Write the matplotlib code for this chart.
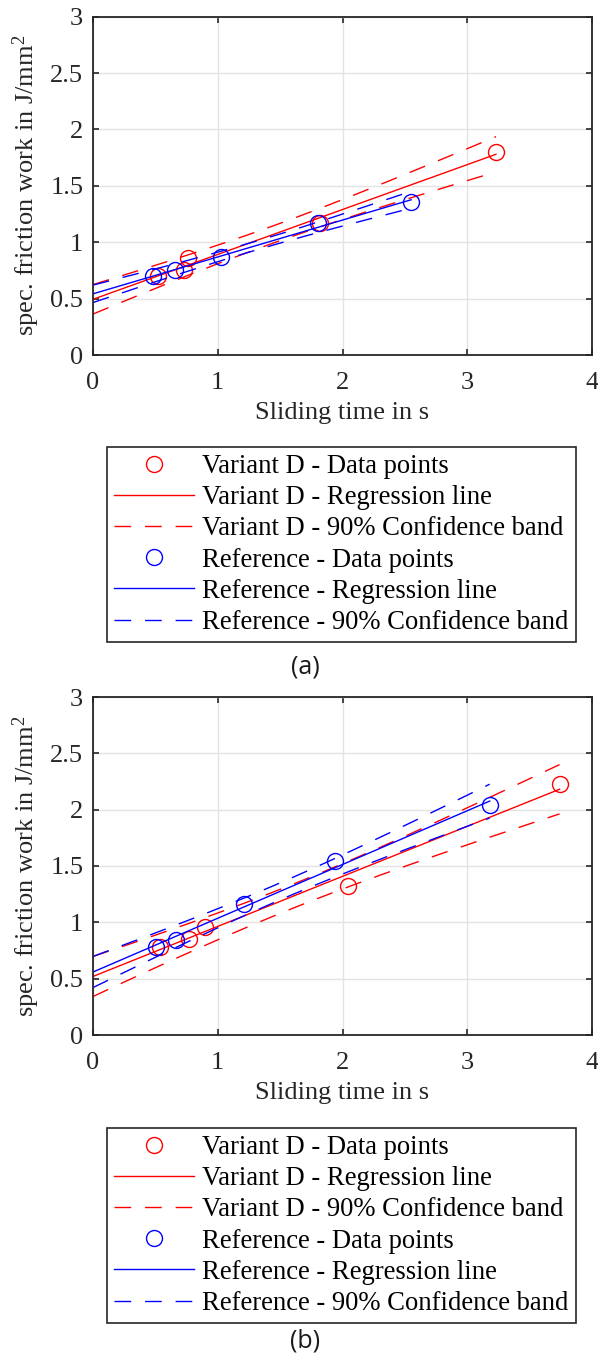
import numpy as np
import matplotlib
matplotlib.use('Agg')
import matplotlib.pyplot as plt
from matplotlib.lines import Line2D

# ---------------- data ----------------
# panel (a)
a_variant_x = [0.52, 0.73, 0.76, 1.82, 3.23]
a_variant_y = [0.70, 0.75, 0.86, 1.17, 1.80]
a_ref_x = [0.48, 0.66, 1.03, 1.80, 2.55]
a_ref_y = [0.70, 0.75, 0.87, 1.17, 1.355]
# panel (b)
b_variant_x = [0.534, 0.767, 0.895, 2.044, 3.74]
b_variant_y = [0.779, 0.853, 0.962, 1.323, 2.226]
b_ref_x = [0.507, 0.668, 1.213, 1.937, 3.18]
b_ref_y = [0.784, 0.844, 1.163, 1.548, 2.037]

x_ticks = [0, 1, 2, 3, 4]
y_ticks = [0, 0.5, 1, 1.5, 2, 2.5, 3]
y_ticklabels = ['0', '0.5', '1', '1.5', '2', '2.5', '3']

legend_labels = ['Variant D - Data points',
                 'Variant D - Regression line',
                 'Variant D - 90% Confidence band',
                 'Reference - Data points',
                 'Reference - Regression line',
                 'Reference - 90% Confidence band']
captions = ['(a)', '(b)']
xlabel = 'Sliding time in s'
ylabel = r'spec. friction work in J/mm$^{2}$'

# F quantile F(0.90; 2, n-2) for n = 5 (simultaneous functional band)
F_90_2_3 = 5.4624

# ---------------- style ----------------
plt.rcParams['font.family'] = ['Liberation Serif', 'DejaVu Serif']
plt.rcParams['mathtext.fontset'] = 'custom'
plt.rcParams['mathtext.rm'] = 'Liberation Serif'
plt.rcParams['mathtext.it'] = 'Liberation Serif:italic'

RED = '#ff0000'
BLUE = '#0000ff'
AX_COL = '#262626'
FS = 19
DASH = (12, 10)


def fit_band(x, y):
    x = np.asarray(x, float)
    y = np.asarray(y, float)
    n = len(x)
    slope, icpt = np.polyfit(x, y, 1)
    xs = np.linspace(0, x.max(), 200)
    yhat = icpt + slope * xs
    resid = y - (icpt + slope * x)
    s = np.sqrt(np.sum(resid ** 2) / (n - 2))
    mx = x.mean()
    sxx = np.sum((x - mx) ** 2)
    half = np.sqrt(2 * F_90_2_3) * s * np.sqrt(1.0 / n + (xs - mx) ** 2 / sxx)
    return xs, yhat, yhat - half, yhat + half


fig = plt.figure(figsize=(5.98, 13.62), dpi=100)

W, H = 598.0, 1362.0
panels = [
    dict(vx=a_variant_x, vy=a_variant_y, rx=a_ref_x, ry=a_ref_y,
         top=16.7, bottom=355.0, leg_top=447.0, cap_y=667.0, cap=captions[0]),
    dict(vx=b_variant_x, vy=b_variant_y, rx=b_ref_x, ry=b_ref_y,
         top=697.0, bottom=1035.0, leg_top=1128.0, cap_y=1341.0, cap=captions[1]),
]

for p in panels:
    left, right = 93.0, 592.0
    ax = fig.add_axes([left / W, 1 - p['bottom'] / H, (right - left) / W,
                       (p['bottom'] - p['top']) / H])
    ax.set_xlim(0, 4)
    ax.set_ylim(0, 3)
    ax.set_xticks(x_ticks)
    ax.set_yticks(y_ticks)
    ax.set_yticklabels(y_ticklabels)
    ax.grid(True, color='#e3e3e3', linewidth=1.0)
    ax.set_axisbelow(True)
    for sp in ax.spines.values():
        sp.set_color(AX_COL)
        sp.set_linewidth(1.3)
    ax.tick_params(direction='in', length=4.5, width=1.2, colors=AX_COL,
                   labelsize=FS, top=True, right=True, labelcolor='#262626')
    ax.tick_params(axis='x', pad=12)
    ax.tick_params(axis='y', pad=7)

    for xs_, ys_, col in [(p['vx'], p['vy'], RED), (p['rx'], p['ry'], BLUE)]:
        ax.plot(xs_, ys_, linestyle='none', marker='o', markersize=11.5,
                markerfacecolor='none', markeredgecolor=col, markeredgewidth=1.0)
        xx, yh, lo, hi = fit_band(xs_, ys_)
        ax.plot(xx, yh, color=col, linewidth=1.0)
        ax.plot(xx, lo, color=col, linewidth=1.0, dashes=DASH)
        ax.plot(xx, hi, color=col, linewidth=1.0, dashes=DASH)

    ax.set_xlabel(xlabel, fontsize=FS, color='#262626', labelpad=6)
    ax.set_ylabel(ylabel, fontsize=FS, color='#262626', labelpad=6)

    handles = [
        Line2D([], [], linestyle='none', marker='o', markersize=11.5,
               markerfacecolor='none', markeredgecolor=RED, markeredgewidth=1.0),
        Line2D([], [], color=RED, linewidth=1.0),
        Line2D([], [], color=RED, linewidth=1.0, dashes=DASH),
        Line2D([], [], linestyle='none', marker='o', markersize=11.5,
               markerfacecolor='none', markeredgecolor=BLUE, markeredgewidth=1.0),
        Line2D([], [], color=BLUE, linewidth=1.0),
        Line2D([], [], color=BLUE, linewidth=1.0, dashes=DASH),
    ]
    leg = fig.legend(handles, legend_labels, loc='upper left',
                     bbox_to_anchor=(107 / W, 1 - p['leg_top'] / H),
                     bbox_transform=fig.transFigure,
                     fontsize=19.2, frameon=True, fancybox=False,
                     edgecolor=AX_COL, framealpha=1.0,
                     handlelength=3.0, handletextpad=0.3, borderpad=0.27,
                     labelspacing=0.23, borderaxespad=0.0)
    leg.get_frame().set_linewidth(1.2)

    fig.text(305 / W, 1 - p['cap_y'] / H, p['cap'], ha='center', va='center',
             fontsize=18, family=['Open Sans', 'DejaVu Sans'], color='#1a1a1a')

fig.savefig('out.png', dpi=100)
